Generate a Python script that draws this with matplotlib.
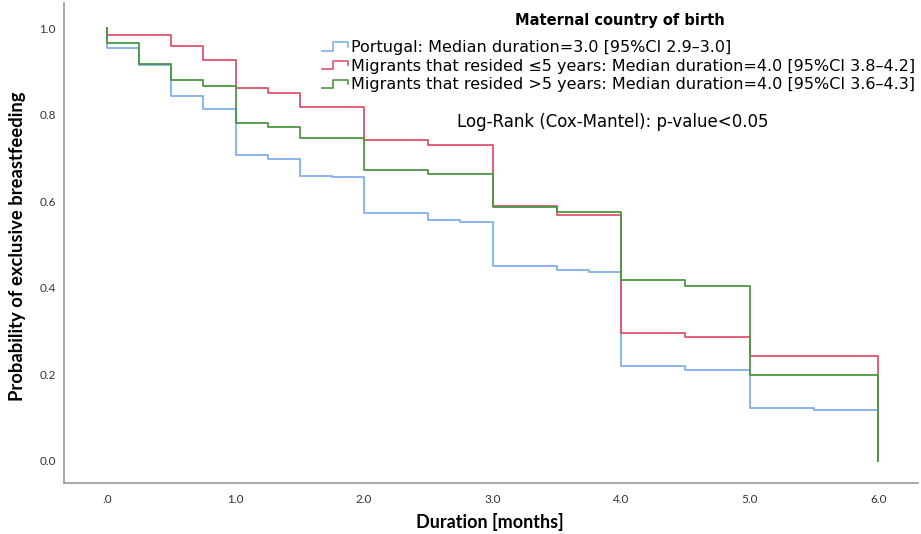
import numpy as np
import matplotlib
matplotlib.use('Agg')
import matplotlib.pyplot as plt
from matplotlib.lines import Line2D
from matplotlib.legend_handler import HandlerBase

# Kaplan-Meier steps (time of drop, survival after drop)
portugal_times = [0, 0.25, 0.5, 0.75, 1.0, 1.25, 1.5, 1.75, 2.0, 2.5, 2.75, 3.0,
                  3.5, 3.75, 4.0, 4.5, 5.0, 5.25, 5.5, 6.0]
portugal_surv = [0.955, 0.914, 0.844, 0.814, 0.706, 0.697, 0.659, 0.656, 0.572, 0.556,
                 0.553, 0.450, 0.441, 0.437, 0.220, 0.209, 0.123, 0.122, 0.118, 0.0]

le5_times = [0, 0.5, 0.75, 1.0, 1.25, 1.5, 2.0, 2.5, 3.0, 3.5, 4.0, 4.5, 5.0, 6.0]
le5_surv = [0.983, 0.959, 0.926, 0.861, 0.851, 0.817, 0.741, 0.730, 0.589, 0.568,
            0.296, 0.286, 0.2425, 0.0]

gt5_times = [0, 0.25, 0.5, 0.75, 1.0, 1.25, 1.5, 2.0, 2.5, 3.0, 3.5, 4.0, 4.5, 5.0, 6.0]
gt5_surv = [0.966, 0.917, 0.879, 0.867, 0.781, 0.771, 0.747, 0.673, 0.662, 0.587,
            0.576, 0.418, 0.405, 0.198, 0.0]

labels = ['Portugal: Median duration=3.0 [95%CI 2.9\u20133.0]',
          'Migrants that resided \u22645 years: Median duration=4.0 [95%CI 3.8\u20134.2]',
          'Migrants that resided >5 years: Median duration=4.0 [95%CI 3.6\u20134.3]']
colors = ['#7fb0ec', '#e2506c', '#4a9842']

xticks = [0, 1, 2, 3, 4, 5, 6]
xticklabels = ['.0', '1.0', '2.0', '3.0', '4.0', '5.0', '6.0']
yticks = [0.0, 0.2, 0.4, 0.6, 0.8, 1.0]
yticklabels = ['0.0', '0.2', '0.4', '0.6', '0.8', '1.0']


class StepHandler(HandlerBase):
    def create_artists(self, legend, orig_handle, xdescent, ydescent, width, height,
                       fontsize, trans):
        xs = np.array([0, 0.45, 0.45, 1.0, 1.0]) * width - xdescent
        ys = np.array([0.1, 0.1, 0.85, 0.85, 0.45]) * height - ydescent
        ln = Line2D(xs, ys, color=orig_handle.get_color(), lw=1.2, transform=trans)
        return [ln]


fig = plt.figure(figsize=(9.21, 5.34), dpi=100)
ax = fig.add_axes([64 / 921, 51 / 534, 854 / 921, 480 / 534])

handles = []
for t, s, c, lab in zip([portugal_times, le5_times, gt5_times],
                        [portugal_surv, le5_surv, gt5_surv], colors, labels):
    x = [0] + t
    y = [1.0] + s
    h, = ax.step(x, y, where='post', color=c, lw=1.3, label=lab)
    handles.append(h)

ax.set_xlim(-0.335, 6.31)
ax.set_ylim(-0.051, 1.058)
ax.set_xticks(xticks)
ax.set_xticklabels(xticklabels, family='Lato', fontsize=8.5)
ax.set_yticks(yticks)
ax.set_yticklabels(yticklabels, family='Lato', fontsize=8.5)
ax.tick_params(length=0, colors='#333333')
ax.tick_params(axis='y', pad=6)
ax.tick_params(axis='x', pad=8)
for sp in ['top', 'right']:
    ax.spines[sp].set_visible(False)
for sp in ['left', 'bottom']:
    ax.spines[sp].set_color('#999999')
    ax.spines[sp].set_linewidth(1.2)

fig.text(490 / 921, 1 - 522 / 534, 'Duration [months]', ha='center', va='center',
         fontsize=13, fontweight='bold', family='Lato')
fig.text(18 / 921, 1 - 246 / 534, 'Probability of exclusive breastfeeding', ha='center',
         va='center', rotation=90, fontsize=13.2, fontweight='bold', family='Lato')

fig.text(620 / 921, 1 - 20 / 534, 'Maternal country of birth', ha='center', va='center',
         fontsize=10.5, fontweight='bold')
ax.legend(handles=handles, loc='upper left', bbox_to_anchor=(314 / 921, 1 - 32 / 534),
          bbox_transform=fig.transFigure, frameon=False, fontsize=11.5,
          handlelength=1.6, handletextpad=0.2, labelspacing=0.22, borderpad=0,
          handler_map={Line2D: StepHandler()})

fig.text(613 / 921, 1 - 122 / 534, 'Log-Rank (Cox-Mantel): p-value<0.05', ha='center',
         va='center', fontsize=12)

fig.savefig('out.png', dpi=100)
